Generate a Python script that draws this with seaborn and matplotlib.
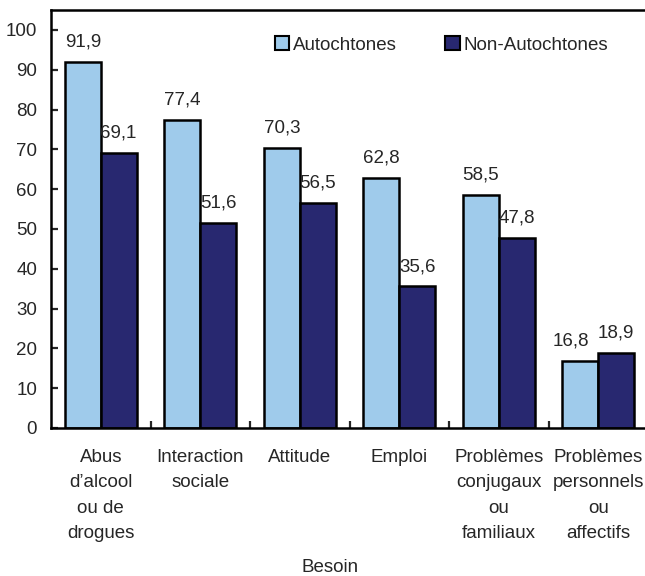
import pandas as pd
import matplotlib
matplotlib.use("Agg")
import matplotlib.pyplot as plt
import seaborn as sns
from matplotlib.patches import Patch

# données
besoins = ["Abus\nd\u2019alcool\nou de\ndrogues", "Interaction\nsociale", "Attitude",
           "Emploi", "Problèmes\nconjugaux\nou\nfamiliaux", "Problèmes\npersonnels\nou\naffectifs"]
autochtones = [91.9, 77.4, 70.3, 62.8, 58.5, 16.8]
non_autochtones = [69.1, 51.6, 56.5, 35.6, 47.8, 18.9]
groupes = ["Autochtones", "Non-Autochtones"]
couleurs = ["#9FCBEB", "#282870"]

df = pd.DataFrame({
    "Besoin": besoins * 2,
    "Groupe": [groupes[0]] * len(besoins) + [groupes[1]] * len(besoins),
    "Valeur": autochtones + non_autochtones,
})

FS = 13.5

sns.set_style("white")
plt.rcParams["font.family"] = ["Liberation Sans", "DejaVu Sans"]
plt.rcParams["font.size"] = FS

fig = plt.figure(figsize=(6.45, 5.76), dpi=100)
ax = fig.add_axes([51 / 645, 1 - 428 / 576, 597 / 645, 418 / 576])

sns.barplot(data=df, x="Besoin", y="Valeur", hue="Groupe", palette=couleurs, saturation=1,
            width=0.72, gap=0, edgecolor="black", linewidth=1.8, ax=ax, legend=False)

# étiquettes des valeurs (la dernière paire est serrée, on décale un peu la première)
for k, cont in enumerate(ax.containers):
    for i, bar in enumerate(cont):
        h = bar.get_height()
        dx = -7 if (k == 0 and i == len(besoins) - 1) else 0
        ax.annotate(f"{h:.1f}".replace(".", ","), (bar.get_x() + bar.get_width() / 2, h),
                    xytext=(dx, 11), textcoords="offset points", ha="center", va="baseline",
                    fontsize=FS)

ax.set_xlim(-0.5, 5.5)
ax.set_ylim(0, 105)
ax.set_yticks(range(0, 101, 10))
ax.tick_params(axis="y", direction="in", length=5, width=1.6, pad=10, labelsize=FS, left=True)
ax.set_xticks(range(len(besoins)))
ax.set_xticklabels(besoins)
ax.set_xticks([i + 0.5 for i in range(len(besoins) - 1)], minor=True)
ax.tick_params(axis="x", which="major", length=0, pad=15, labelsize=FS)
ax.tick_params(axis="x", which="minor", direction="in", length=5, width=1.6, bottom=True)
for lab in ax.get_xticklabels():
    lab.set_linespacing(1.65)
    lab.set_va("top")

ax.set_ylabel("")
ax.set_xlabel("Besoin", fontsize=FS)
ax.xaxis.set_label_coords(0.467, 1 - (567 - 10) / 418, transform=ax.transAxes)
ax.xaxis.label.set_va("center")

for s in ["left", "bottom", "top", "right"]:
    ax.spines[s].set_visible(True)
    ax.spines[s].set_color("black")
    ax.spines[s].set_linewidth(1.8)

handles = [Patch(facecolor=c, edgecolor="black", linewidth=1.5) for c in couleurs]
ax.legend(handles, groupes, loc="center left", bbox_to_anchor=(224 / 597, 1 - 35 / 418), ncol=2,
          frameon=False, handlelength=0.75, handleheight=0.75, handletextpad=0.2,
          columnspacing=2.6, fontsize=FS, borderaxespad=0, borderpad=0)

fig.savefig("out.png", dpi=100)
